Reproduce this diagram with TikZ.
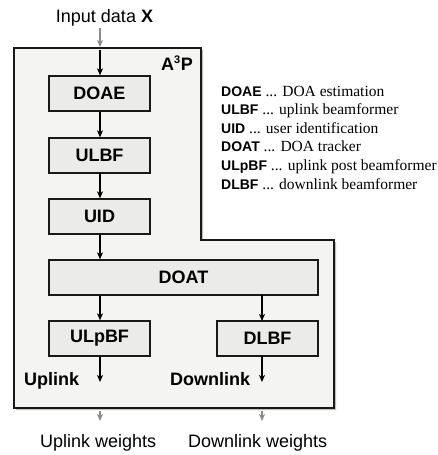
\documentclass[tikz,border=0pt]{standalone}
\usepackage{fontspec}
\setmainfont{Liberation Sans}
\newfontfamily\descfont{Liberation Serif}
\usetikzlibrary{arrows.meta}
\definecolor{outerfill}{HTML}{F4F4F3}
\definecolor{boxfill}{HTML}{EBEBEA}
\definecolor{grayarrow}{HTML}{8C8C8C}
\tikzset{
  blk/.style={draw=black!90, line width=1.3pt, fill=boxfill, minimum width=101pt, minimum height=35pt, inner sep=0pt, font=\fontsize{18}{20}\selectfont\bfseries},
  lbl/.style={font=\fontsize{18}{20}\selectfont, inner sep=0pt},
  blbl/.style={font=\fontsize{18}{20}\selectfont\bfseries, inner sep=0pt},
  leg/.style={font=\fontsize{14}{16}\selectfont, inner sep=0pt, anchor=base west},
  arr/.style={line width=1.3pt, -{Stealth[length=7pt,width=6pt,inset=2pt]}},
  garr/.style={line width=1.3pt, draw=grayarrow, -{Stealth[length=7pt,width=6pt,inset=2pt]}, color=grayarrow},
}
\newcommand{\dsc}[1]{{\descfont\fontsize{15.5}{17}\selectfont #1}}
\begin{document}
\begin{tikzpicture}[x=1pt,y=-1pt]
\useasboundingbox (0,0) rectangle (438,455);
% outer block with shadow
\fill[black!25] (16,50) -- (203,50) -- (203,242) -- (336,242) -- (336,410) -- (16,410) -- cycle;
\draw[fill=outerfill, draw=black!90, line width=1.6pt] (14,48) -- (201,48) -- (201,240) -- (334,240) -- (334,408) -- (14,408) -- cycle;
\node[blbl, anchor=base east] (a3p) at (193,70) {A\textsuperscript{\fontsize{11}{12}\selectfont 3}P};
% boxes
\node[blk] (doae) at (99.5,93.5) {DOAE};
\node[blk] (ulbf) at (99.5,155.5) {ULBF};
\node[blk] (uid) at (99.5,216.5) {UID};
\node[blk, minimum width=269pt] (doat) at (183.5,277.5) {DOAT};
\node[blk] (ulpbf) at (99.5,338.5) {ULpBF};
\node[blk] (dlbf) at (267.5,338.5) {DLBF};
% labels
\node[lbl, anchor=base] (input) at (104.5,22.7) {Input data \textbf{X}};
\node[blbl, anchor=base west] (uplink) at (24,385) {Uplink};
\node[blbl, anchor=base west] (downlink) at (170,385) {Downlink};
\node[lbl, anchor=base west] (ulw) at (40,447.5) {Uplink weights};
\node[lbl, anchor=base west] (dlw) at (188,447.5) {Downlink weights};
% coordinates
\coordinate (inA) at (100,28);
\coordinate (inB) at (100,47);
\coordinate (inC) at (100,50);
\coordinate (ulA) at (100,382);
\coordinate (ulB) at (100,411);
\coordinate (ulC) at (100,421);
\coordinate (dlS) at (262,295);
\coordinate (dlT) at (262,321);
\coordinate (dlA) at (262,356);
\coordinate (dlE) at (262,382);
\coordinate (dlB) at (262,411);
\coordinate (dlC) at (262,421);
% connectors
\draw[garr] (inA) -- (inB);
\draw[arr] (inC) -- (doae.north -| inC);
\draw[arr] (doae.south -| inC) -- (ulbf.north -| inC);
\draw[arr] (ulbf.south -| inC) -- (uid.north -| inC);
\draw[arr] (uid.south -| inC) -- (doat.north -| inC);
\draw[arr] (doat.south -| inC) -- (ulpbf.north -| inC);
\draw[arr] (dlS) -- (dlT);
\draw[arr] (ulpbf.south -| inC) -- (ulA);
\draw[arr] (dlA) -- (dlE);
\draw[garr] (ulB) -- (ulC);
\draw[garr] (dlB) -- (dlC);
% legend
\node[leg] (l1) at (221,96) {\textbf{DOAE} \dsc{... DOA estimation}};
\node[leg] (l2) at (221,114.6) {\textbf{ULBF} \dsc{... uplink beamformer}};
\node[leg] (l3) at (221,133.2) {\textbf{UID} \dsc{... user identification}};
\node[leg] (l4) at (221,151.8) {\textbf{DOAT} \dsc{... DOA tracker}};
\node[leg] (l5) at (221,170.4) {\textbf{ULpBF} \dsc{... uplink post beamformer}};
\node[leg] (l6) at (221,189) {\textbf{DLBF} \dsc{... downlink beamformer}};
\end{tikzpicture}
\end{document}
